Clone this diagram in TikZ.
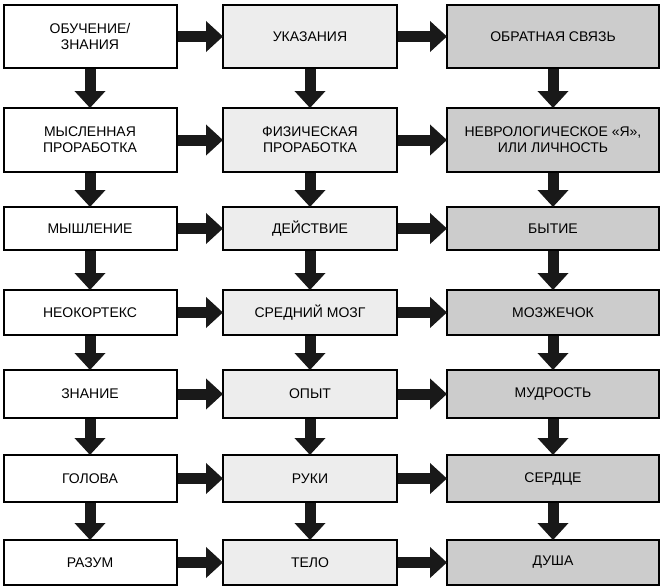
\documentclass[tikz,border=0pt]{standalone}
\usepackage{fontspec}
\setmainfont{Liberation Sans}
\usetikzlibrary{arrows.meta}
\begin{document}
\begin{tikzpicture}[x=1pt,y=-1pt,
  box/.style={draw=black,line width=2pt,font=\fontsize{14}{16}\selectfont,align=center,inner sep=0pt},
  c1/.style={box,fill=white},
  c2/.style={box,fill=black!7},
  c3/.style={box,fill=black!20},
  arr/.style={draw=black!90,line width=11pt,-{Triangle[width=30pt,length=17pt]},shorten >=-1pt}]
\useasboundingbox (0,0) rectangle (666,587);
\def\rows{{5,108,207,290,370,455,540}}
\def\rowe{{68,172,250,335,418,502,585}}
\foreach \i/\a/\b/\c in {0/{ОБУЧЕНИЕ/\\ЗНАНИЯ}/УКАЗАНИЯ/ОБРАТНАЯ СВЯЗЬ,
  1/{МЫСЛЕННАЯ\\ПРОРАБОТКА}/{ФИЗИЧЕСКАЯ\\ПРОРАБОТКА}/{НЕВРОЛОГИЧЕСКОЕ «Я»,\\ИЛИ ЛИЧНОСТЬ},
  2/МЫШЛЕНИЕ/ДЕЙСТВИЕ/БЫТИЕ,
  3/НЕОКОРТЕКС/СРЕДНИЙ МОЗГ/МОЗЖЕЧОК,
  4/ЗНАНИЕ/ОПЫТ/МУДРОСТЬ,
  5/ГОЛОВА/РУКИ/СЕРДЦЕ,
  6/РАЗУМ/ТЕЛО/ДУША}{
  \pgfmathsetmacro\ys{\rows[\i]}
  \pgfmathsetmacro\ye{\rowe[\i]}
  \node[c1,minimum width=173pt,minimum height=\ye-\ys] (a\i) at (90,{(\ys+\ye)/2}) {\a};
  \node[c2,minimum width=174pt,minimum height=\ye-\ys] (b\i) at (310,{(\ys+\ye)/2}) {\b};
  \node[c3,minimum width=212pt,minimum height=\ye-\ys] (c\i) at (553,{(\ys+\ye)/2}) {\c};
  \draw[arr] (a\i.east) -- (b\i.west);
  \draw[arr] (b\i.east) -- (c\i.west);
}
\foreach \i [evaluate=\i as \j using int(\i+1)] in {0,...,5}{
  \draw[arr] (a\i.south) -- (a\j.north);
  \draw[arr] (b\i.south) -- (b\j.north);
  \draw[arr] (c\i.south) -- (c\j.north);
}
\end{tikzpicture}
\end{document}
